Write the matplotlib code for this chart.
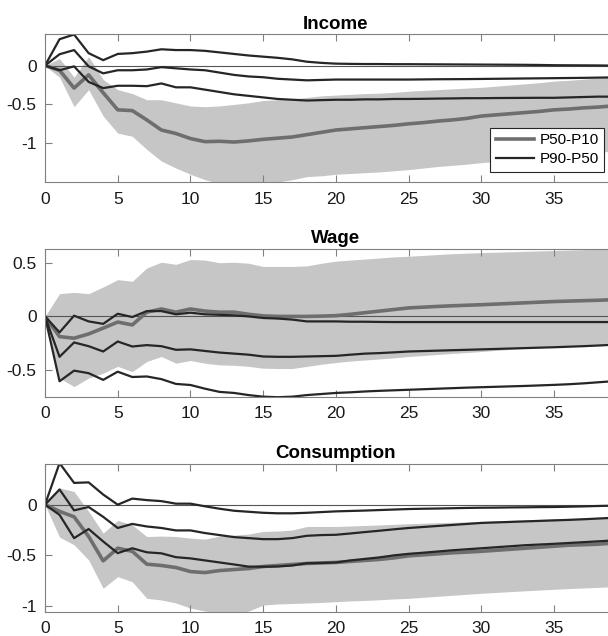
import numpy as np
import matplotlib
matplotlib.use("Agg")
import matplotlib.pyplot as plt

plt.rcParams['font.family'] = ['Liberation Sans', 'DejaVu Sans']

horizon = list(range(41))

# Income
inc_p5010 = [0, -0.06, -0.29, -0.12, -0.35, -0.57, -0.58, -0.70, -0.83, -0.875,
             -0.94, -0.98, -0.975, -0.985, -0.97, -0.95, -0.935, -0.92, -0.89, -0.86,
             -0.83, -0.815, -0.80, -0.785, -0.77, -0.75, -0.735, -0.715, -0.70, -0.68,
             -0.65, -0.635, -0.62, -0.605, -0.59, -0.57, -0.56, -0.545, -0.535, -0.52,
             -0.51]
inc_p5010_hi = [0, 0.09, -0.15, 0.115, -0.18, -0.31, -0.36, -0.44, -0.44, -0.48,
                -0.52, -0.53, -0.52, -0.50, -0.48, -0.45, -0.44, -0.43, -0.41, -0.39,
                -0.38, -0.37, -0.36, -0.355, -0.345, -0.33, -0.32, -0.31, -0.30, -0.29,
                -0.28, -0.265, -0.25, -0.235, -0.22, -0.20, -0.19, -0.175, -0.16, -0.15,
                -0.14]
inc_p5010_lo = [0, -0.15, -0.53, -0.31, -0.65, -0.87, -0.91, -1.08, -1.23, -1.32,
                -1.40, -1.47, -1.52, -1.55, -1.55, -1.52, -1.50, -1.47, -1.43, -1.42,
                -1.40, -1.39, -1.38, -1.37, -1.355, -1.34, -1.32, -1.30, -1.285, -1.27,
                -1.25, -1.235, -1.22, -1.20, -1.185, -1.17, -1.155, -1.14, -1.12, -1.10,
                -1.09]
inc_p9050 = [0, 0.146, 0.20, -0.01, -0.10, -0.06, -0.06, -0.05, -0.02, -0.035,
             -0.05, -0.06, -0.09, -0.12, -0.14, -0.15, -0.17, -0.18, -0.19, -0.185,
             -0.18, -0.18, -0.18, -0.18, -0.18, -0.18, -0.178, -0.176, -0.175, -0.174,
             -0.172, -0.17, -0.168, -0.166, -0.164, -0.162, -0.16, -0.158, -0.155, -0.152,
             -0.15]
inc_p9050_hi = [0, 0.34, 0.40, 0.16, 0.07, 0.15, 0.16, 0.18, 0.21, 0.20,
                0.20, 0.19, 0.17, 0.15, 0.13, 0.115, 0.10, 0.08, 0.05, 0.035,
                0.025, 0.022, 0.02, 0.02, 0.018, 0.018, 0.017, 0.016, 0.015, 0.014,
                0.013, 0.012, 0.011, 0.01, 0.008, 0.005, 0.004, 0.003, 0.002, 0.0,
                0.0]
inc_p9050_lo = [0, -0.06, -0.01, -0.21, -0.29, -0.26, -0.26, -0.265, -0.23, -0.28,
                -0.28, -0.31, -0.34, -0.37, -0.39, -0.41, -0.43, -0.44, -0.45, -0.445,
                -0.44, -0.44, -0.435, -0.435, -0.43, -0.43, -0.428, -0.425, -0.423, -0.42,
                -0.42, -0.418, -0.417, -0.416, -0.415, -0.415, -0.41, -0.405, -0.40, -0.40,
                -0.395]

# Wage
wag_p5010 = [0, -0.19, -0.205, -0.165, -0.11, -0.053, -0.08, 0.04, 0.07, 0.04,
             0.07, 0.05, 0.04, 0.04, 0.02, 0.005, 0.0, 0.0, 0.0, 0.003,
             0.007, 0.02, 0.035, 0.05, 0.065, 0.08, 0.087, 0.094, 0.10, 0.105,
             0.11, 0.116, 0.122, 0.128, 0.134, 0.14, 0.144, 0.148, 0.152, 0.157,
             0.16]
wag_p5010_hi = [0, 0.214, 0.226, 0.214, 0.277, 0.346, 0.33, 0.456, 0.51, 0.49,
                0.535, 0.53, 0.505, 0.51, 0.50, 0.47, 0.47, 0.47, 0.475, 0.50,
                0.52, 0.53, 0.54, 0.55, 0.56, 0.566, 0.574, 0.582, 0.59, 0.595,
                0.60, 0.604, 0.608, 0.612, 0.616, 0.62, 0.624, 0.628, 0.632, 0.636,
                0.64]
wag_p5010_lo = [0, -0.58, -0.66, -0.58, -0.534, -0.47, -0.52, -0.424, -0.377, -0.44,
                -0.415, -0.44, -0.456, -0.46, -0.47, -0.487, -0.49, -0.49, -0.47, -0.45,
                -0.434, -0.42, -0.41, -0.40, -0.39, -0.377, -0.368, -0.358, -0.348, -0.34,
                -0.33, -0.32, -0.31, -0.30, -0.292, -0.283, -0.28, -0.275, -0.27, -0.267,
                -0.262]
wag_p9050 = [0, -0.38, -0.245, -0.28, -0.33, -0.236, -0.283, -0.27, -0.28, -0.314,
             -0.31, -0.325, -0.34, -0.35, -0.36, -0.377, -0.38, -0.38, -0.377, -0.374,
             -0.371, -0.36, -0.35, -0.345, -0.338, -0.33, -0.326, -0.322, -0.318, -0.314,
             -0.31, -0.306, -0.302, -0.298, -0.294, -0.29, -0.285, -0.28, -0.274, -0.267,
             -0.262]
wag_p9050_hi = [0, -0.15, 0.007, -0.047, -0.07, 0.025, -0.006, 0.05, 0.05, 0.02,
                0.035, 0.02, 0.015, 0.01, 0.0, -0.015, -0.02, -0.03, -0.047, -0.047,
                -0.047, -0.05, -0.05, -0.052, -0.053, -0.053, -0.053, -0.053, -0.053, -0.053,
                -0.053, -0.053, -0.053, -0.053, -0.053, -0.053, -0.053, -0.053, -0.053, -0.053,
                -0.053]
wag_p9050_lo = [0, -0.61, -0.51, -0.534, -0.597, -0.52, -0.57, -0.565, -0.59, -0.635,
                -0.645, -0.68, -0.71, -0.72, -0.74, -0.755, -0.76, -0.755, -0.74, -0.73,
                -0.72, -0.714, -0.706, -0.70, -0.695, -0.69, -0.685, -0.68, -0.675, -0.67,
                -0.666, -0.662, -0.658, -0.654, -0.649, -0.644, -0.638, -0.63, -0.62, -0.61,
                -0.60]

# Consumption
con_p5010 = [0, -0.066, -0.12, -0.314, -0.554, -0.43, -0.46, -0.587, -0.60, -0.62,
             -0.66, -0.67, -0.65, -0.64, -0.63, -0.61, -0.60, -0.59, -0.58, -0.575,
             -0.57, -0.56, -0.55, -0.54, -0.525, -0.505, -0.495, -0.485, -0.475, -0.468,
             -0.46, -0.45, -0.44, -0.43, -0.42, -0.41, -0.40, -0.395, -0.39, -0.38,
             -0.375]
con_p5010_hi = [0, 0.165, 0.13, -0.066, -0.28, -0.155, -0.2, -0.314, -0.31, -0.314,
                -0.33, -0.34, -0.31, -0.30, -0.29, -0.264, -0.26, -0.25, -0.215, -0.215,
                -0.215, -0.21, -0.205, -0.2, -0.194, -0.188, -0.183, -0.178, -0.174, -0.17,
                -0.165, -0.16, -0.155, -0.15, -0.145, -0.14, -0.136, -0.132, -0.127, -0.122,
                -0.118]
con_p5010_lo = [0, -0.32, -0.396, -0.545, -0.825, -0.71, -0.76, -0.924, -0.94, -0.97,
                -1.02, -1.05, -1.07, -1.07, -1.05, -0.99, -0.98, -0.975, -0.97, -0.965,
                -0.957, -0.95, -0.945, -0.938, -0.93, -0.924, -0.914, -0.904, -0.894, -0.884,
                -0.874, -0.866, -0.858, -0.85, -0.842, -0.835, -0.828, -0.822, -0.816, -0.81,
                -0.805]
con_p9050 = [0, 0.15, -0.056, -0.023, -0.12, -0.23, -0.19, -0.215, -0.23, -0.254,
             -0.254, -0.28, -0.30, -0.32, -0.33, -0.34, -0.34, -0.33, -0.307, -0.30,
             -0.297, -0.284, -0.27, -0.257, -0.243, -0.23, -0.22, -0.21, -0.2, -0.19,
             -0.18, -0.175, -0.17, -0.165, -0.16, -0.155, -0.15, -0.144, -0.137, -0.13,
             -0.125]
con_p9050_hi = [0, 0.41, 0.215, 0.22, 0.1, 0.0, 0.06, 0.045, 0.035, 0.01,
                0.01, -0.016, -0.04, -0.06, -0.07, -0.08, -0.085, -0.085, -0.08, -0.073,
                -0.066, -0.062, -0.058, -0.053, -0.048, -0.043, -0.04, -0.038, -0.035, -0.032,
                -0.03, -0.029, -0.027, -0.026, -0.024, -0.023, -0.02, -0.017, -0.013, -0.01,
                -0.008]
con_p9050_lo = [0, -0.1, -0.33, -0.24, -0.363, -0.478, -0.43, -0.47, -0.48, -0.518,
                -0.53, -0.55, -0.57, -0.59, -0.611, -0.612, -0.61, -0.60, -0.578, -0.575,
                -0.57, -0.55, -0.535, -0.52, -0.5, -0.485, -0.474, -0.462, -0.45, -0.44,
                -0.43, -0.42, -0.41, -0.4, -0.393, -0.386, -0.378, -0.37, -0.362, -0.353,
                -0.345]

titles = ['Income', 'Wage', 'Consumption']
ylims = [(-1.5, 0.405), (-0.755, 0.636), (-1.056, 0.403)]
yticks = [[-1, -0.5, 0], [-0.5, 0, 0.5], [-1, -0.5, 0]]
xticks = [0, 5, 10, 15, 20, 25, 30, 35]

panels = [
    (inc_p5010, inc_p5010_lo, inc_p5010_hi, inc_p9050, inc_p9050_lo, inc_p9050_hi),
    (wag_p5010, wag_p5010_lo, wag_p5010_hi, wag_p9050, wag_p9050_lo, wag_p9050_hi),
    (con_p5010, con_p5010_lo, con_p5010_hi, con_p9050, con_p9050_lo, con_p9050_hi),
]

band_col = '#c6c6c6'
gray_col = '#6e6e6e'
dark_col = '#262626'
axis_col = '#808080'

fig = plt.figure(figsize=(6.08, 6.36), dpi=100)
bottoms = [0.7138, 0.3763, 0.0382]

for i, (mid, lo, hi, mid2, lo2, hi2) in enumerate(panels):
    # axes run past the right edge of the picture, as in the reference crop
    ax = fig.add_axes([0.074, bottoms[i], 0.957, 0.2325])
    ax.fill_between(horizon, lo, hi, color=band_col, linewidth=0)
    ax.axhline(0, color='#555555', linewidth=0.8)
    l1, = ax.plot(horizon, mid, color=gray_col, linewidth=2.6, label='P50-P10')
    l2, = ax.plot(horizon, mid2, color=dark_col, linewidth=1.6, label='P90-P50')
    ax.plot(horizon, lo2, color=dark_col, linewidth=1.6)
    ax.plot(horizon, hi2, color=dark_col, linewidth=1.6)

    ax.set_xlim(0, 40)
    ax.set_ylim(*ylims[i])
    ax.set_xticks(xticks)
    ax.set_yticks(yticks[i])
    ax.set_yticklabels([f'{v:g}' for v in yticks[i]])
    ax.tick_params(direction='in', top=True, right=True, length=5, width=0.8,
                   color=axis_col, labelsize=12.5, labelcolor='#1a1a1a')
    ax.tick_params(axis='x', pad=7)
    ax.tick_params(axis='y', pad=6)
    for s in ax.spines.values():
        s.set_color(axis_col)
        s.set_linewidth(0.8)
    ax.set_title(titles[i], fontsize=13.5, fontweight='bold', pad=4)

    if i == 0:
        leg = ax.legend(handles=[l1, l2], loc='lower right',
                        bbox_to_anchor=(0.9605, 0.0696), borderaxespad=0,
                        fontsize=11, fancybox=False, framealpha=1,
                        edgecolor=dark_col, handlelength=2.5, handletextpad=0.35,
                        labelspacing=0.35, borderpad=0.35)
        leg.get_frame().set_linewidth(0.8)

fig.savefig('out.png', dpi=100)
